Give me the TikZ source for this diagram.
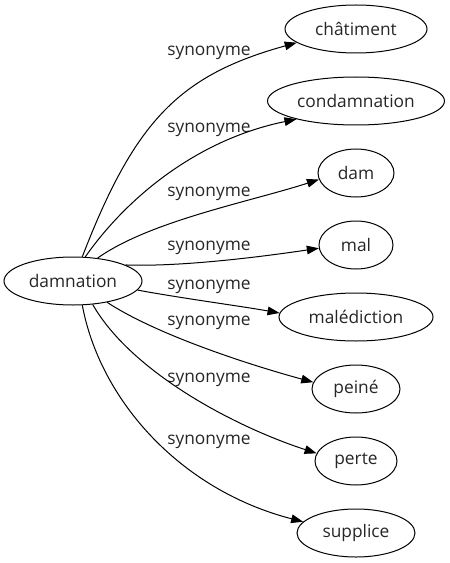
\documentclass[tikz,border=0pt]{standalone}
\usepackage{fontspec}
\setmainfont{Open Sans}
\usetikzlibrary{arrows.meta,shapes.geometric}
\begin{document}
\begin{tikzpicture}[x=0.75pt,y=-0.75pt,
  word/.style={ellipse,draw,line width=0.75pt,inner sep=0pt,minimum height=36pt,
    font=\fontsize{13}{15}\selectfont,text=black!85},
  lbl/.style={font=\fontsize{13}{15}\selectfont,text=black!85,inner sep=0pt},
  link/.style={line width=0.75pt,-{Triangle[length=9pt,width=6.5pt]}}]
\useasboundingbox (0,0) rectangle (449,563);
\node[word,minimum width=103.5pt] (src) at (73,281) {damnation};
\node[word,minimum width=106.5pt] (n1) at (356,29) {châtiment};
\node[word,minimum width=132.75pt] (n2) at (356,101) {condamnation};
\node[word,minimum width=57pt] (n3) at (356,173) {dam};
\node[word,minimum width=55.5pt] (n4) at (356,245) {mal};
\node[word,minimum width=115.5pt] (n5) at (356,317) {malédiction};
\node[word,minimum width=66pt] (n6) at (356,389) {peiné};
\node[word,minimum width=61.5pt] (n7) at (356,461) {perte};
\node[word,minimum width=88.5pt] (n8) at (356,533) {supplice};
\node[lbl] (l1) at (209,53) {synonyme};
\node[lbl] (l2) at (209,130) {synonyme};
\node[lbl] (l3) at (209,194) {synonyme};
\node[lbl] (l4) at (209,248) {synonyme};
\node[lbl] (l5) at (209,287) {synonyme};
\node[lbl] (l6) at (209,323) {synonyme};
\node[lbl] (l7) at (209,380) {synonyme};
\node[lbl] (l8) at (209,442) {synonyme};
\draw[link] (src.69) .. controls (135,120) and (180,75) .. (n1.193);
\draw[link] (src.63) .. controls (125,200) and (195,140) .. (n2.197);
\draw[link] (src.43) .. controls (150,221) and (249,202) .. (n3.190);
\draw[link] (src.17) .. controls (180,267) and (260,257) .. (n4.185);
\draw[link] (src.-8) .. controls (180,298) and (240,306) .. (n5.177);
\draw[link] (src.-32) .. controls (157,335) and (250,365) .. (n6.171);
\draw[link] (src.-50) .. controls (130,370) and (230,425) .. (n7.169);
\draw[link] (src.-69) .. controls (100,400) and (180,490) .. (n8.168);
\end{tikzpicture}
\end{document}
